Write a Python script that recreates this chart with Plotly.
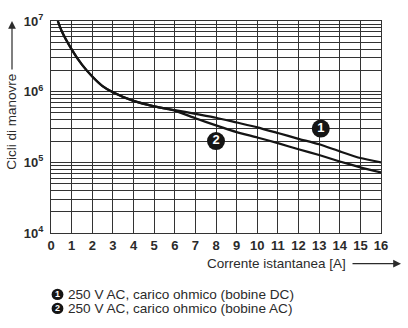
import plotly.graph_objects as go

# ---- data ----
x_dc = [0.33, 0.5, 1, 1.5, 2, 2.5, 3, 4, 5, 6, 7, 8, 9, 10, 11, 12, 13, 14, 15, 16]
y_dc = [1.0e7, 7.4e6, 3.97e6, 2.41e6, 1.64e6, 1.2e6, 9.8e5, 7.4e5, 6.2e5, 5.5e5,
        4.85e5, 4.28e5, 3.66e5, 3.13e5, 2.6e5, 2.15e5, 1.8e5, 1.43e5, 1.15e5, 1.0e5]

x_ac = [0.33, 0.5, 1, 1.5, 2, 2.5, 3, 4, 5, 6, 7, 8, 9, 10, 11, 12, 13, 14, 15, 16]
y_ac = [1.0e7, 7.4e6, 3.97e6, 2.41e6, 1.64e6, 1.2e6, 9.8e5, 7.4e5, 6.2e5, 5.4e5,
        4.2e5, 3.33e5, 2.68e5, 2.25e5, 1.87e5, 1.53e5, 1.27e5, 1.03e5, 8.5e4, 7.2e4]

badge_x = [13.08, 8.0]
badge_y = [3.0e5, 2.0e5]
badge_text = ["1", "2"]

x_ticks = list(range(0, 17))
decades = [4, 5, 6]
legend_labels = ["250 V AC, carico ohmico (bobine DC)", "250 V AC, carico ohmico (bobine AC)"]
legend_marks = ["1", "2"]
x_title = "Corrente istantanea [A]"
y_title = "Cicli di manovre"

FONT = "Liberation Sans, Arial, DejaVu Sans"
TXT = "#2b2b2b"
GRID = "#333333"

y_tickvals, y_ticktext = [], []
for d in decades:
    for m in range(1, 10):
        y_tickvals.append(m * 10 ** d)
        y_ticktext.append(f"10<sup>{d}</sup>" if m == 1 else "")
y_tickvals.append(10 ** 7)
y_ticktext.append("10<sup>7</sup>")

fig = go.Figure()
fig.add_trace(go.Scatter(x=x_dc, y=y_dc, mode="lines", line=dict(color="#151515", width=2.2, shape="spline", smoothing=0.5)))
fig.add_trace(go.Scatter(x=x_ac, y=y_ac, mode="lines", line=dict(color="#151515", width=2.2, shape="spline", smoothing=0.5)))
fig.add_trace(go.Scatter(x=badge_x, y=badge_y, mode="markers+text", text=badge_text,
                         textposition="middle center",
                         textfont=dict(color="white", size=13, family=FONT, weight="bold"),
                         marker=dict(size=18, color="#151515", line=dict(width=0))))

PW, PH = 330, 221
L, T = 51, 12
B = T + PH

def px(xp):
    return (xp - L) / PW

def py(yp):
    return (B - yp) / PH

ann = []
shapes = []
# y title + arrow
ann.append(dict(text=y_title, x=px(12), y=py(117), xref="paper", yref="paper", showarrow=False,
                textangle=-90, font=dict(family=FONT, size=13.5, color=TXT), xanchor="center", yanchor="middle"))
ann.append(dict(text="", x=px(12), y=py(12), xref="paper", yref="paper", showarrow=True,
                ax=0, ay=50, arrowhead=2, arrowsize=1.3, arrowwidth=1.2, arrowcolor=TXT))
# x title + arrow
ann.append(dict(text=x_title, x=px(205), y=py(265), xref="paper", yref="paper", showarrow=False,
                font=dict(family=FONT, size=13.5, color=TXT), xanchor="left", yanchor="middle"))
ann.append(dict(text="", x=px(401), y=py(265), xref="paper", yref="paper", showarrow=True,
                ax=-50, ay=0, arrowhead=2, arrowsize=1.3, arrowwidth=1.2, arrowcolor=TXT))
# legend
R = 5.9
for i, (mk, lab) in enumerate(zip(legend_marks, legend_labels)):
    yy = 297.0 + 14.6 * i
    cx = 57.5
    shapes.append(dict(type="circle", xref="paper", yref="paper",
                       x0=px(cx - R), x1=px(cx + R), y0=py(yy + R), y1=py(yy - R),
                       fillcolor="#151515", line=dict(width=0)))
    ann.append(dict(text=mk, x=px(cx), y=py(yy), xref="paper", yref="paper", showarrow=False,
                    font=dict(family=FONT, size=9, color="white", weight="bold"), xanchor="center", yanchor="middle",
                    borderpad=0))
    ann.append(dict(text=lab, x=px(67), y=py(yy), xref="paper", yref="paper", showarrow=False,
                    font=dict(family=FONT, size=13.6, color=TXT), xanchor="left", yanchor="middle",
                    borderpad=0))

fig.update_layout(
    width=408, height=328, autosize=False,
    margin=dict(l=L, r=408 - L - PW, t=T, b=328 - B, pad=0),
    paper_bgcolor="white", plot_bgcolor="white",
    showlegend=False,
    annotations=ann,
    shapes=shapes,
    xaxis=dict(range=[0, 16], tickvals=x_ticks, ticktext=[str(v) for v in x_ticks],
               showgrid=True, gridcolor=GRID, gridwidth=1, zeroline=False,
               showline=True, linecolor=GRID, linewidth=1, mirror=True, ticks="",
               tickfont=dict(family=FONT, size=13, color=TXT, weight="bold")),
    yaxis=dict(type="log", range=[4, 7], tickvals=y_tickvals, ticktext=y_ticktext,
               showgrid=True, gridcolor=GRID, gridwidth=1, zeroline=False,
               showline=True, linecolor=GRID, linewidth=1, mirror=True, ticks="",
               ticklabelstandoff=4,
               tickfont=dict(family=FONT, size=13, color=TXT, weight="bold")),
)

fig.write_html("out.html")
